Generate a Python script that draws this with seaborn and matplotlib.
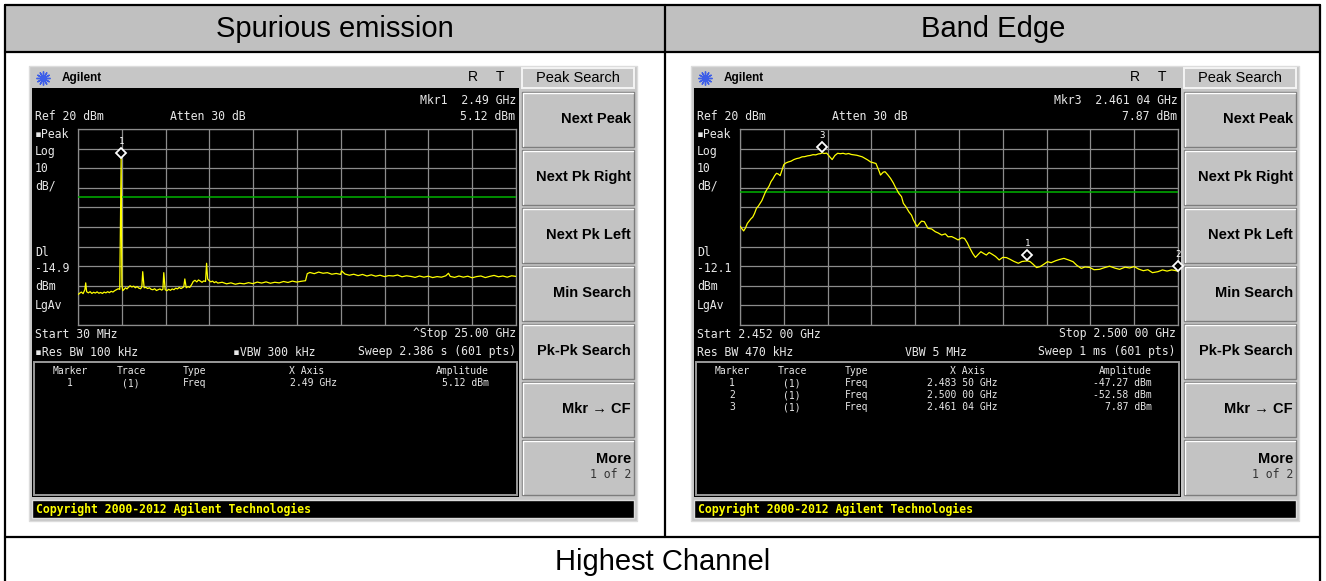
import matplotlib
matplotlib.use("Agg")
import numpy as np
import matplotlib.pyplot as plt
import matplotlib.transforms as mtransforms
from matplotlib.patches import Rectangle
import seaborn as sns

spur_freq = [
    0.03, 0.12, 0.22, 0.32, 0.42, 0.47, 0.52, 0.62, 0.72, 0.82,
    0.92, 1.02, 1.12, 1.22, 1.32, 1.42, 1.52, 1.62, 1.72, 1.82,
    1.92, 2.02, 2.12, 2.22, 2.32, 2.41, 2.45, 2.49, 2.53, 2.58,
    2.66, 2.74, 2.82, 2.90, 3.00, 3.10, 3.20, 3.30, 3.40, 3.50,
    3.60, 3.67, 3.72, 3.80, 3.90, 4.00, 4.10, 4.20, 4.30, 4.40,
    4.50, 4.60, 4.70, 4.80, 4.87, 4.92, 5.00, 5.10, 5.20, 5.30,
    5.40, 5.50, 5.60, 5.70, 5.80, 5.90, 6.00, 6.06, 6.12, 6.20,
    6.30, 6.40, 6.50, 6.60, 6.70, 6.80, 6.90, 7.00, 7.10, 7.20,
    7.30, 7.36, 7.42, 7.50, 7.60, 7.70, 7.80, 7.90, 8.00, 8.25,
    8.50, 8.75, 9.00, 9.25, 9.50, 9.75, 10.0, 10.25, 10.5, 10.75,
    11.0, 11.25, 11.5, 11.75, 12.0, 12.25, 12.5, 12.75, 13.0, 13.1,
    13.25, 13.5, 13.75, 14.0, 14.25, 14.5, 14.75, 15.0, 15.06, 15.25,
    15.5, 15.75, 16.0, 16.25, 16.5, 16.75, 17.0, 17.25, 17.5, 17.75,
    18.0, 18.25, 18.5, 18.75, 19.0, 19.25, 19.5, 19.75, 20.0, 20.25,
    20.5, 20.75, 21.0, 21.15, 21.25, 21.5, 21.75, 22.0, 22.25, 22.5,
    22.75, 23.0, 23.25, 23.5, 23.75, 24.0, 24.25, 24.5, 24.75, 25.0,
]
spur_level = [
    -64.5, -63.8, -63.2, -64.0, -62.0, -58.5, -63.0, -63.6, -63.0, -63.9,
    -63.3, -63.7, -63.1, -63.8, -63.4, -63.9, -63.2, -63.6, -63.0, -63.5,
    -62.8, -63.2, -62.5, -62.0, -61.5, -61.8, -26.0, 5.12, -59.5, -62.5,
    -61.8, -61.0, -61.6, -60.8, -60.0, -60.6, -60.2, -61.0, -60.4, -61.2,
    -61.5, -60.5, -52.8, -61.0, -60.8, -61.4, -61.0, -61.8, -62.0, -61.5,
    -62.4, -62.0, -61.6, -62.2, -61.8, -53.3, -62.0, -62.5, -61.8, -62.3,
    -61.6, -62.0, -61.2, -61.6, -60.8, -61.4, -60.9, -60.5, -56.5, -61.0,
    -60.4, -60.8, -59.5, -57.8, -57.2, -58.0, -57.0, -57.6, -58.2, -57.5,
    -57.8, -48.5, -56.5, -57.3, -58.0, -57.6, -58.4, -57.9, -58.6, -58.2,
    -59.0, -58.5, -59.2, -58.7, -59.0, -58.4, -58.9, -58.1, -58.6, -58.0,
    -58.7, -58.2, -58.5, -57.8, -58.3, -57.6, -58.1, -57.7, -57.4, -53.8,
    -53.2, -53.8, -53.0, -53.6, -53.3, -54.1, -53.7, -54.2, -52.4, -54.0,
    -54.6, -54.1, -54.8, -54.2, -55.0, -54.4, -55.1, -54.6, -55.3, -54.8,
    -55.0, -54.5, -55.4, -54.9, -55.2, -55.7, -55.0, -55.6, -55.1, -55.8,
    -55.3, -55.6, -54.9, -53.6, -55.2, -55.7, -55.0, -55.6, -55.1, -55.9,
    -55.3, -55.0, -55.8, -55.2, -54.7, -55.4, -55.0, -55.6, -54.9, -55.2,
]

edge_freq = [
    2.4520, 2.4522, 2.4524, 2.4526, 2.4528, 2.4530, 2.4532, 2.4534, 2.4536, 2.4538,
    2.4540, 2.4542, 2.4544, 2.4546, 2.4548, 2.4550, 2.4552, 2.4554, 2.4556, 2.4558,
    2.4560, 2.4562, 2.4564, 2.4566, 2.4568, 2.4570, 2.4573, 2.4576, 2.4579, 2.4582,
    2.4585, 2.4588, 2.4591, 2.4594, 2.4597, 2.4600, 2.4603, 2.4606, 2.4608, 2.46104,
    2.4612, 2.4615, 2.4618, 2.4621, 2.4624, 2.4627, 2.4630, 2.4633, 2.4636, 2.4639,
    2.4642, 2.4645, 2.4648, 2.4651, 2.4654, 2.4657, 2.4660, 2.4663, 2.4666, 2.4669,
    2.4672, 2.4674, 2.4677, 2.4679, 2.4682, 2.4685, 2.4688, 2.4690, 2.4694, 2.4697,
    2.4699, 2.4702, 2.4705, 2.4708, 2.4710, 2.4714, 2.4717, 2.4719, 2.4722, 2.4726,
    2.4730, 2.4734, 2.4737, 2.4741, 2.4745, 2.4748, 2.4752, 2.4756, 2.4759, 2.4763,
    2.4766, 2.4769, 2.4772, 2.4775, 2.4778, 2.4781, 2.4784, 2.4787, 2.4790, 2.4793,
    2.4796, 2.4800, 2.4804, 2.4808, 2.4812, 2.4816, 2.4820, 2.4825, 2.4829, 2.4835,
    2.4838, 2.4841, 2.4845, 2.4849, 2.4853, 2.4857, 2.4861, 2.4866, 2.4870, 2.4875,
    2.4880, 2.4885, 2.4889, 2.4894, 2.4898, 2.4903, 2.4908, 2.4914, 2.4919, 2.4925,
    2.4931, 2.4936, 2.4942, 2.4947, 2.4952, 2.4957, 2.4962, 2.4967, 2.4972, 2.4978,
    2.4983, 2.4988, 2.4993, 2.4997, 2.5000,
]
edge_level = [
    -29.5, -30.8, -32.0, -30.5, -28.2, -27.0, -25.8, -24.9, -23.0, -20.5,
    -19.4, -18.0, -16.5, -14.2, -12.0, -10.5, -9.0, -6.8, -5.5, -3.8,
    -2.6, -3.0, -3.8, -1.0, 1.8, 2.6, 3.2, 3.6, 4.4, 4.9,
    5.2, 5.8, 5.9, 6.3, 6.5, 6.9, 6.8, 7.3, 7.4, 7.87,
    7.5, 7.7, 6.0, 4.4, 6.5, 7.6, 7.4, 7.6, 7.2, 7.5,
    7.0, 6.8, 6.6, 6.2, 5.8, 5.0, 4.2, 3.2, 2.8, 2.4,
    -1.0, -3.5, -2.0, -1.8, -3.4, -5.2, -7.5, -9.4, -12.8, -14.5,
    -17.9, -19.8, -22.2, -24.0, -26.4, -29.8, -28.0, -27.0, -27.3, -30.7,
    -31.0, -32.4, -33.0, -34.1, -33.5, -35.0, -34.9, -35.8, -36.6, -35.5,
    -35.8, -38.0, -40.9, -43.5, -45.5, -44.0, -42.6, -43.5, -44.3, -43.0,
    -43.8, -45.0, -46.8, -45.5, -45.6, -46.5, -47.5, -48.5, -47.6, -47.27,
    -47.7, -48.9, -50.7, -50.2, -49.0, -47.7, -48.2, -47.2, -46.6, -46.0,
    -46.8, -47.7, -49.5, -51.1, -50.4, -50.6, -51.8, -51.6, -50.8, -50.0,
    -51.0, -51.6, -50.5, -50.9, -50.2, -51.5, -52.3, -51.8, -53.3, -52.8,
    -51.9, -52.5, -51.9, -52.2, -52.58,
]

spur_mkr_id = ["1"]
spur_mkr_freq = [2.49]
spur_mkr_amp = [5.12]
edge_mkr_id = ["1", "2", "3"]
edge_mkr_freq = [2.4835, 2.5000, 2.46104]
edge_mkr_amp = [-47.27, -52.58, 7.87]

ref_level = 20
db_per_div = 10
spur_dl = -14.9
edge_dl = -12.1

col_titles = ["Spurious emission", "Band Edge"]
row_title = "Highest Channel"
softkeys = ["Next Peak", "Next Pk Right", "Next Pk Left", "Min Search",
            "Pk-Pk Search", "Mkr \u2192 CF", "More"]

# ---- figure ----
sns.set_theme(style="dark")
plt.rcParams['font.family'] = ['Liberation Sans', 'DejaVu Sans']

W, H = 1326, 581
fig = plt.figure(figsize=(W / 100, H / 100), dpi=100)
fig.patch.set_facecolor("white")
bg = fig.add_axes([0, 0, 1, 1])
bg.set_xlim(0, W)
bg.set_ylim(H, 0)
bg.axis("off")

MONO = ["DejaVu Sans Mono"]
SANS = ["Liberation Sans", "DejaVu Sans"]
SCR = "#e8e8e8"


def box(x0, y0, x1, y1, fc="none", ec="none", lw=1.0, z=1):
    bg.add_patch(Rectangle((x0, y0), x1 - x0, y1 - y0, facecolor=fc,
                           edgecolor=ec, linewidth=lw, zorder=z))


def txt(x, y, s, size=8.3, ha="left", color=SCR, family=MONO, weight="normal", z=5):
    bg.text(x, y, s, fontsize=size, ha=ha, va="center", color=color,
            family=family, fontweight=weight, zorder=z)


def bevel(x0, y0, x1, y1, fc="#c3c3c3"):
    box(x0, y0, x1, y1, fc=fc, ec="#7d7d7d", lw=1.0, z=2)
    bg.plot([x0 + 1, x0 + 1, x1 - 1], [y1 - 1, y0 + 1, y0 + 1], color="white", lw=1.0, zorder=3)


# table
box(5, 5, 1320, 52, fc="#c0c0c0", z=0)
for yy in [5, 52, 537]:
    bg.plot([5, 1320], [yy, yy], color="black", lw=1.6, zorder=6)
for xx in [5, 1320]:
    bg.plot([xx, xx], [5, H], color="black", lw=1.6, zorder=6)
bg.plot([665, 665], [5, 537], color="black", lw=1.6, zorder=6)
txt(335, 29, col_titles[0], size=21, ha="center", color="black", family=SANS)
txt(993, 29, col_titles[1], size=21, ha="center", color="black", family=SANS)
txt(663, 562, row_title, size=21, ha="center", color="black", family=SANS)


def screen(dx, freq, level, f0, f1, dl, mk_id, mk_f, mk_a, texts, rows):
    # frame and title bar
    box(29 + dx, 66, 637 + dx, 521, fc="#c6c6c6", ec="#dcdcdc", lw=1.0, z=1)
    bg.plot([43 + dx], [78], marker=(12, 2, 0), ms=10, mew=1.0, color="#3d5ee8", zorder=4)
    txt(62 + dx, 78, "Agilent", size=8.5, color="black", family=SANS, weight="bold")
    txt(468 + dx, 77, "R", size=10, color="black", family=SANS)
    txt(496 + dx, 77, "T", size=10, color="black", family=SANS)
    # black screen
    box(32 + dx, 88, 519 + dx, 497, fc="black", z=2)
    box(34 + dx, 362, 517 + dx, 495, ec="#9a9a9a", lw=1.4, z=3)
    box(32 + dx, 500, 634 + dx, 518, fc="black", ec="#dcdcdc", lw=1.0, z=2)
    txt(36 + dx, 509, "Copyright 2000-2012 Agilent Technologies", size=8.3,
        color="#ffff00", weight="bold")
    # soft keys
    box(522 + dx, 68, 634 + dx, 88, fc="#c8c8c8", ec="#f4f4f4", lw=1.4, z=2)
    txt(578 + dx, 78, "Peak Search", size=10.5, ha="center", color="black", family=SANS)
    for i, lab in enumerate(softkeys):
        y0 = 92 + 58 * i
        bevel(522 + dx, y0, 634 + dx, y0 + 55)
        if lab == "More":
            txt(631 + dx, y0 + 19, lab, size=10.5, ha="right", color="black",
                family=SANS, weight="bold")
            txt(631 + dx, y0 + 35, "1 of 2", size=8.3, ha="right", color="#333333")
        else:
            txt(631 + dx, y0 + 27, lab, size=10.5, ha="right", color="black",
                family=SANS, weight="bold")
    # screen annotations
    for (x, y, s, ha) in texts:
        txt(x + dx, y, s, ha=ha)
    for (x, y, s, ha) in rows:
        txt(x + dx, y, s, size=7, ha=ha)

    # graticule
    gx0, gy0, gx1, gy1 = 78 + dx, 129, 516 + dx, 325
    ax = fig.add_axes([gx0 / W, 1 - gy1 / H, (gx1 - gx0) / W, (gy1 - gy0) / H])
    ax.set_facecolor("black")
    ax.set_xlim(f0, f1)
    ax.set_ylim(ref_level - 10 * db_per_div, ref_level)
    ax.set_xticks(np.linspace(f0, f1, 11))
    ax.set_yticks(np.linspace(ref_level - 10 * db_per_div, ref_level, 11))
    ax.grid(True, color="#8c8c8c", lw=0.9)
    ax.tick_params(length=0, labelbottom=False, labelleft=False)
    for sp in ax.spines.values():
        sp.set_color("#8c8c8c")
        sp.set_linewidth(0.9)
    ax.axhline(dl, color="#00b400", lw=1.1, zorder=3)
    sns.lineplot(x=freq, y=level, ax=ax, color="#ffff00", lw=0.9,
                 estimator=None, sort=False, zorder=4)
    ax.set_xlabel("")
    ax.set_ylabel("")
    up = mtransforms.offset_copy(ax.transData, fig=fig, x=0, y=5.5, units="dots")
    ax.plot(mk_f, mk_a, ls="none", marker="D", ms=5, mfc="black", mec="white",
            mew=1.3, transform=up, zorder=6, clip_on=False)
    for n, f, a in zip(mk_id, mk_f, mk_a):
        ax.annotate(n, (f, a), xytext=(0, 17), textcoords="offset pixels",
                    ha="center", va="center", color="white", fontsize=6.5,
                    family=MONO, annotation_clip=False)
    return ax


left_texts = [
    (516, 101, "Mkr1  2.49 GHz", "right"),
    (35, 117, "Ref 20 dBm", "left"), (170, 117, "Atten 30 dB", "left"),
    (515, 117, "5.12 dBm", "right"),
    (35, 134, "\u25aaPeak", "left"), (35, 152, "Log", "left"), (35, 169, "10", "left"),
    (35, 186, "dB/", "left"), (35, 253, "Dl", "left"), (35, 269, "-14.9", "left"),
    (35, 286, "dBm", "left"), (35, 305, "LgAv", "left"),
    (35, 334, "Start 30 MHz", "left"), (516, 334, "^Stop 25.00 GHz", "right"),
    (35, 352, "\u25aaRes BW 100 kHz", "left"), (233, 352, "\u25aaVBW 300 kHz", "left"),
    (516, 352, "Sweep 2.386 s (601 pts)", "right"),
]
left_rows = [
    (70, 371, "Marker", "center"), (131, 371, "Trace", "center"),
    (183, 371, "Type", "left"), (307, 371, "X Axis", "center"),
    (489, 371, "Amplitude", "right"),
    (70, 383, "1", "center"), (131, 383, "(1)", "center"), (183, 383, "Freq", "left"),
    (290, 383, "2.49 GHz", "left"), (489, 383, "5.12 dBm", "right"),
]
right_texts = [
    (516, 101, "Mkr3  2.461 04 GHz", "right"),
    (35, 117, "Ref 20 dBm", "left"), (170, 117, "Atten 30 dB", "left"),
    (515, 117, "7.87 dBm", "right"),
    (35, 134, "\u25aaPeak", "left"), (35, 152, "Log", "left"), (35, 169, "10", "left"),
    (35, 186, "dB/", "left"), (35, 253, "Dl", "left"), (35, 269, "-12.1", "left"),
    (35, 286, "dBm", "left"), (35, 305, "LgAv", "left"),
    (35, 334, "Start 2.452 00 GHz", "left"), (514, 334, "Stop 2.500 00 GHz", "right"),
    (35, 352, "Res BW 470 kHz", "left"), (243, 352, "VBW 5 MHz", "left"),
    (513, 352, "Sweep 1 ms (601 pts)", "right"),
]
right_rows = [
    (70, 371, "Marker", "center"), (130, 371, "Trace", "center"),
    (183, 371, "Type", "left"), (306, 371, "X Axis", "center"),
    (490, 371, "Amplitude", "right"),
]
for k in range(3):
    yy = 383 + 12 * k
    right_rows += [
        (70, yy, edge_mkr_id[k], "center"), (130, yy, "(1)", "center"),
        (183, yy, "Freq", "left"),
        (265, yy, "%.3f %02d GHz" % (edge_mkr_freq[k], round(edge_mkr_freq[k] * 1e5) % 100), "left"),
        (490, yy, "%.2f dBm" % edge_mkr_amp[k], "right"),
    ]

screen(0, spur_freq, spur_level, 0.03, 25.0, spur_dl,
       spur_mkr_id, spur_mkr_freq, spur_mkr_amp, left_texts, left_rows)
screen(662, edge_freq, edge_level, 2.452, 2.500, edge_dl,
       edge_mkr_id, edge_mkr_freq, edge_mkr_amp, right_texts, right_rows)

fig.savefig("out.png", dpi=100, facecolor="white")
